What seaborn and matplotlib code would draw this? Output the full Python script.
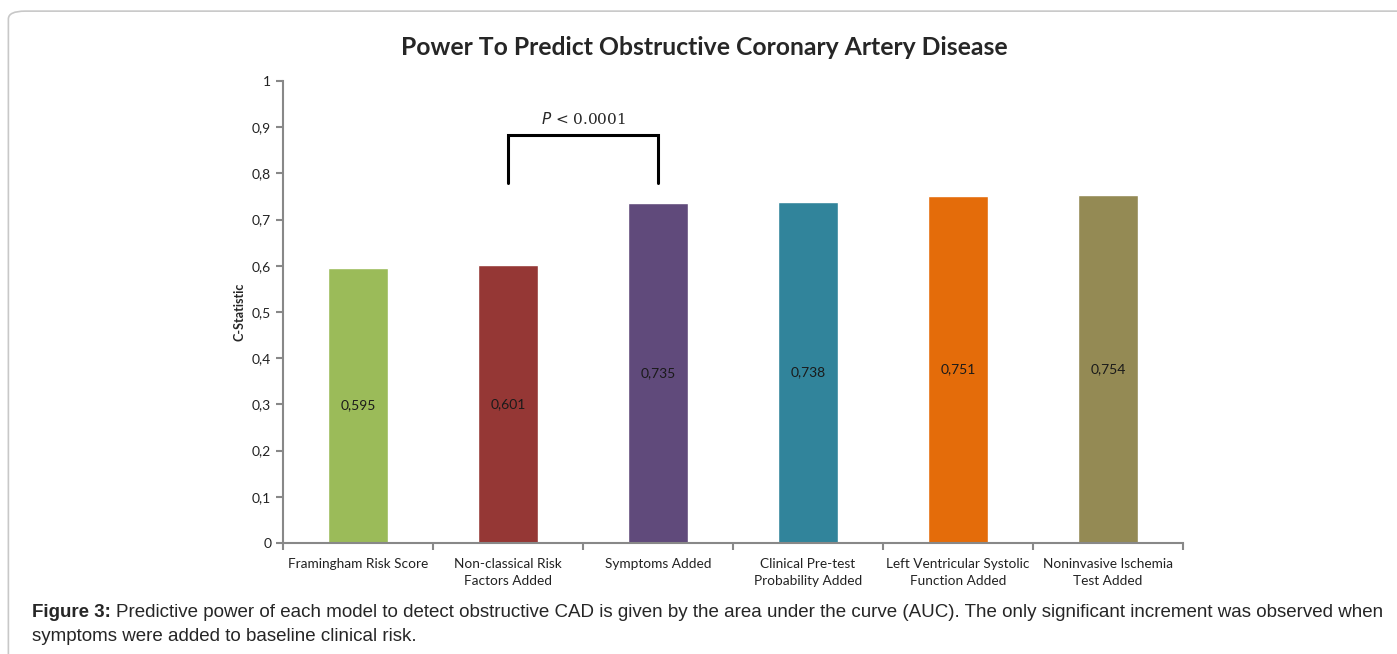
import numpy as np
import pandas as pd
import matplotlib
matplotlib.use("Agg")
import matplotlib.pyplot as plt
from matplotlib.patches import FancyBboxPatch
import seaborn as sns

models = ["Framingham Risk Score", "Non-classical Risk\nFactors Added", "Symptoms Added",
          "Clinical Pre-test\nProbability Added", "Left Ventricular Systolic\nFunction Added",
          "Noninvasive Ischemia\nTest Added"]
c_stat = [0.595, 0.601, 0.735, 0.738, 0.751, 0.754]
colors = ["#9BBB59", "#953735", "#604A7B", "#31849B", "#E46C0A", "#948A54"]
y_ticks = [0, 0.1, 0.2, 0.3, 0.4, 0.5, 0.6, 0.7, 0.8, 0.9, 1.0]

df = pd.DataFrame({"model": models, "c": c_stat})


def comma(v):
    s = f"{v:g}"
    return s.replace(".", ",")


sns.set_style("white")
plt.rcParams["font.family"] = ["Lato", "DejaVu Sans"]

fig = plt.figure(figsize=(13.97, 6.54), dpi=100)
ax = fig.add_axes([0.2026, 0.1697, 0.6442, 0.7064])

sns.barplot(data=df, x="model", y="c", hue="model", palette=colors, width=0.4,
            legend=False, saturation=1, ax=ax)

for i, v in enumerate(c_stat):
    ax.text(i, v / 2, comma(v), ha="center", va="center", fontsize=10, color="#1a1a1a")

# significance bracket between bar 2 and 3
ax.plot([1, 1, 2, 2], [0.78, 0.883, 0.883, 0.78], color="black", lw=2.2,
        solid_joinstyle="miter")
ax.text(1.5, 0.917, r"$P$ < 0.0001", ha="center", va="center", fontsize=11,
        family="DejaVu Serif")

ax.set_xlim(-0.5, 5.5)
ax.set_ylim(0, 1)
ax.set_yticks(y_ticks)
ax.set_yticklabels([comma(t) for t in y_ticks], fontsize=10, color="#222222")
ax.set_xticks(range(6))
ax.set_xticklabels(models, fontsize=9.8, color="#222222", linespacing=1.45)
ax.tick_params(axis="x", length=0, pad=11)
ax.set_xticks(np.arange(-0.5, 6, 1), minor=True)
ax.tick_params(axis="x", which="minor", length=5, width=1.5, color="#888888",
               direction="out", bottom=True)
ax.tick_params(axis="y", length=5, width=1.5, color="#888888", direction="out", left=True)
for s in ["top", "right"]:
    ax.spines[s].set_visible(False)
for s in ["left", "bottom"]:
    ax.spines[s].set_color("#888888")
    ax.spines[s].set_linewidth(1.5)

ax.set_xlabel("")
ax.set_ylabel("C-Statistic", fontsize=9, fontweight="bold", labelpad=5)

fig.text(0.504, 0.928, "Power To Predict Obstructive Coronary Artery Disease",
         ha="center", va="center", fontsize=17.8, fontweight="bold")

# caption
fig.text(0.0229, 0.063, "Figure 3:", ha="left", va="center", fontsize=13.5,
         fontweight="bold", family="Liberation Sans")
fig.text(0.0833, 0.063, "Predictive power of each model to detect obstructive CAD is given by the "
         "area under the curve (AUC). The only significant increment was observed when",
         ha="left", va="center", fontsize=13.5, family="Liberation Sans")
fig.text(0.0229, 0.026, "symptoms were added to baseline clinical risk.",
         ha="left", va="center", fontsize=13.5, family="Liberation Sans")

frame = FancyBboxPatch((0.006, -0.05), 1.05, 1.033, boxstyle="round,pad=0,rounding_size=0.012",
                       transform=fig.transFigure, fill=False, edgecolor="#c8c8c8", lw=1.2)
fig.patches.append(frame)

fig.savefig("out.png", dpi=100)
